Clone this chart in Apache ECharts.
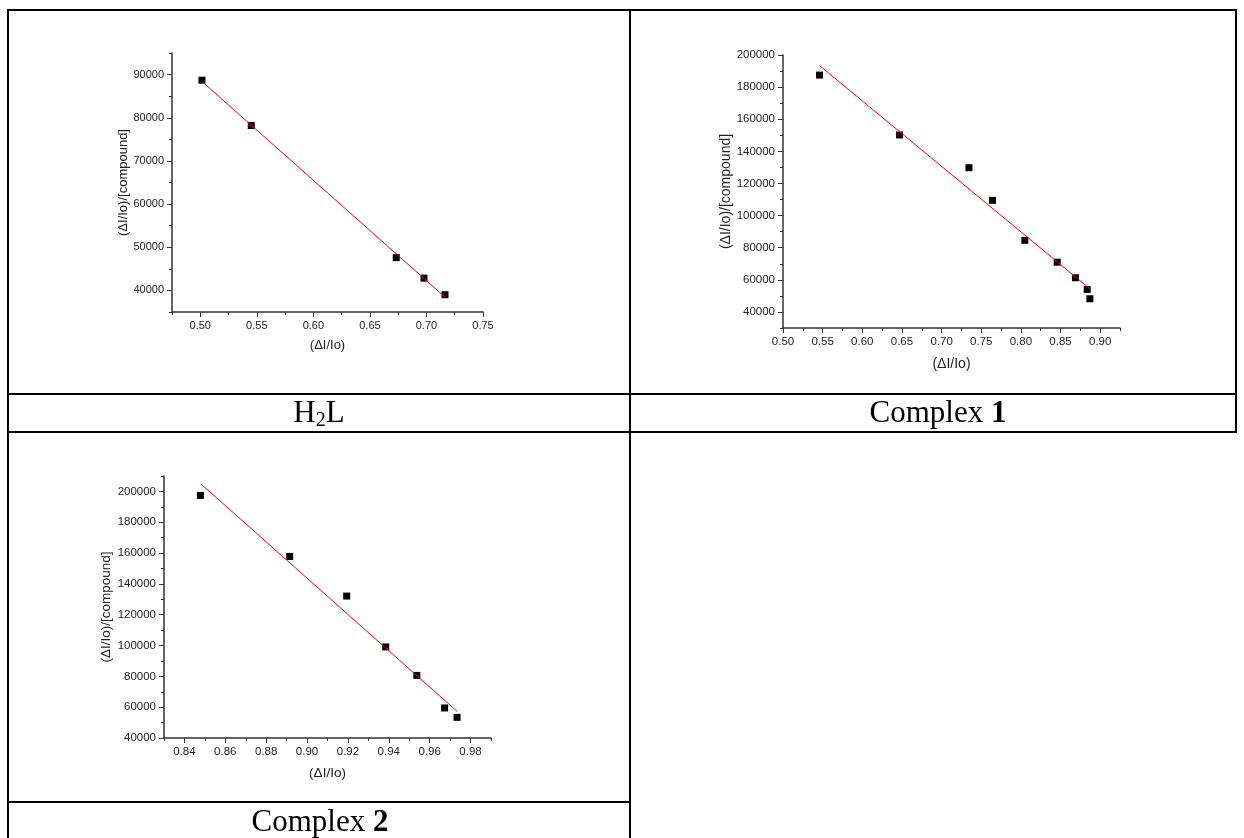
<!DOCTYPE html>
<html>
<head>
<meta charset="utf-8">
<script src="https://cdn.jsdelivr.net/npm/echarts@6.0.0/dist/echarts.min.js"></script>
<style>
  html, body { margin: 0; padding: 0; background: #fff; }
  #main { width: 1244px; height: 838px; }
</style>
</head>
<body>
<div id="main"></div>
<script>
// H2L
var h2lX = [0.5015, 0.5451, 0.6733, 0.6978, 0.7164];
var h2lY = [88700, 78200, 47600, 42850, 39000];
var h2lFitX = [0.5015, 0.7164];
var h2lFitY = [88400, 38450];
var h2lXTicks = [0.50, 0.55, 0.60, 0.65, 0.70, 0.75];
var h2lXMinor = [0.475, 0.525, 0.575, 0.625, 0.675, 0.725];
var h2lYTicks = [40000, 50000, 60000, 70000, 80000, 90000];
var h2lYMinor = [35000, 45000, 55000, 65000, 75000, 85000, 95000];

// Complex 1
var c1X = [0.5461, 0.6470, 0.7345, 0.7642, 0.8050, 0.8458, 0.8688, 0.8836, 0.8870];
var c1Y = [187500, 150200, 129800, 109500, 84600, 71000, 61300, 54000, 48200];
var c1FitX = [0.5461, 0.8870];
var c1FitY = [193400, 54450];
var c1XTicks = [0.50, 0.55, 0.60, 0.65, 0.70, 0.75, 0.80, 0.85, 0.90];
var c1XMinor = [0.525, 0.575, 0.625, 0.675, 0.725, 0.775, 0.825, 0.875, 0.925];
var c1YTicks = [40000, 60000, 80000, 100000, 120000, 140000, 160000, 180000, 200000];
var c1YMinor = [30000, 50000, 70000, 90000, 110000, 130000, 150000, 170000, 190000];

// Complex 2
var c2X = [0.8478, 0.8915, 0.9194, 0.9385, 0.9537, 0.9673, 0.9734];
var c2Y = [197400, 157800, 132100, 99100, 80600, 59500, 53400];
var c2FitX = [0.8481, 0.9734];
var c2FitY = [204800, 57300];
var c2XTicks = [0.84, 0.86, 0.88, 0.90, 0.92, 0.94, 0.96, 0.98];
var c2XMinor = [0.83, 0.85, 0.87, 0.89, 0.91, 0.93, 0.95, 0.97, 0.99];
var c2YTicks = [40000, 60000, 80000, 100000, 120000, 140000, 160000, 180000, 200000];
var c2YMinor = [50000, 70000, 90000, 110000, 130000, 150000, 170000, 190000, 210000];

var xName = '(\u0394I/Io)';
var yName = '(\u0394I/Io)/[compound]';
var axisColor = '#333';
var textColor = '#222';
var sans = '"Liberation Sans", Arial, sans-serif';
var serif = '"Liberation Serif", "Times New Roman", serif';

function pairs(xs, ys) {
  var out = [];
  for (var i = 0; i < xs.length; i++) out.push([xs[i], ys[i]]);
  return out;
}

var xAxes = [], yAxes = [], series = [];

function addChart(g, xr, yr, xt, xm, yt, ym, lab, nm, xGap, yGap, px, py, fx, fy) {
  var base = xAxes.length;
  // main axes with labels and long ticks
  xAxes.push({
    type: 'value', gridIndex: g, min: xr[0], max: xr[1], position: 'bottom',
    name: xName, nameLocation: 'middle', nameGap: xGap,
    nameTextStyle: { fontFamily: sans, fontSize: nm, color: textColor },
    axisLine: { onZero: false, lineStyle: { color: axisColor, width: 1.5 } },
    axisTick: { customValues: xt, length: 5, lineStyle: { color: axisColor, width: 1 } },
    axisLabel: { customValues: xt, margin: 8, fontFamily: sans, fontSize: lab, color: textColor,
      formatter: function (v) { return v.toFixed(2); } },
    splitLine: { show: false }
  });
  // minor ticks only
  xAxes.push({
    type: 'value', gridIndex: g, min: xr[0], max: xr[1], position: 'bottom',
    axisLine: { show: false, onZero: false },
    axisTick: { customValues: xm, length: 3, lineStyle: { color: axisColor, width: 1 } },
    axisLabel: { show: false }, splitLine: { show: false }
  });
  yAxes.push({
    type: 'value', gridIndex: g, min: yr[0], max: yr[1], position: 'left',
    name: yName, nameLocation: 'middle', nameGap: yGap, nameRotate: 90,
    nameTextStyle: { fontFamily: sans, fontSize: nm, color: textColor },
    axisLine: { onZero: false, lineStyle: { color: axisColor, width: 1.5 } },
    axisTick: { customValues: yt, length: 5, lineStyle: { color: axisColor, width: 1 } },
    axisLabel: { customValues: yt, margin: 8, fontFamily: sans, fontSize: lab, color: textColor,
      formatter: function (v) { return String(Math.round(v)); } },
    splitLine: { show: false }
  });
  yAxes.push({
    type: 'value', gridIndex: g, min: yr[0], max: yr[1], position: 'left',
    axisLine: { show: false, onZero: false },
    axisTick: { customValues: ym, length: 3, lineStyle: { color: axisColor, width: 1 } },
    axisLabel: { show: false }, splitLine: { show: false }
  });
  series.push({
    type: 'scatter', xAxisIndex: base, yAxisIndex: base,
    symbol: 'rect', symbolSize: 7, itemStyle: { color: '#000', opacity: 1 },
    data: pairs(px, py), z: 2
  });
  series.push({
    type: 'line', xAxisIndex: base, yAxisIndex: base,
    symbol: 'none', lineStyle: { color: '#ff0000', width: 1 },
    data: pairs(fx, fy), z: 3
  });
}

addChart(0, [0.475, 0.75], [35000, 95000], h2lXTicks, h2lXMinor, h2lYTicks, h2lYMinor,
  11, 13, 27, 40, h2lX, h2lY, h2lFitX, h2lFitY);
addChart(1, [0.50, 0.925], [30000, 200000], c1XTicks, c1XMinor, c1YTicks, c1YMinor,
  11.5, 14, 29, 50, c1X, c1Y, c1FitX, c1FitY);
addChart(2, [0.83, 0.99], [40000, 210000], c2XTicks, c2XMinor, c2YTicks, c2YMinor,
  11.5, 13.5, 28, 48, c2X, c2Y, c2FitX, c2FitY);

// table rules
function rule(x1, y1, x2, y2) {
  return { type: 'line', silent: true, shape: { x1: x1, y1: y1, x2: x2, y2: y2 },
    style: { stroke: '#000', lineWidth: 2 } };
}
var big = { fontFamily: serif, fontSize: 31, lineHeight: 34, color: '#000' };
var sub = { fontFamily: serif, fontSize: 20, lineHeight: 20, verticalAlign: 'bottom', color: '#000' };
var bold = { fontFamily: serif, fontSize: 31, lineHeight: 34, fontWeight: 'bold', color: '#000' };

var graphics = [
  rule(8, 10, 1236, 10),
  rule(8, 9, 8, 838),
  rule(630, 9, 630, 838),
  rule(1236, 9, 1236, 433),
  rule(8, 394, 1236, 394),
  rule(8, 432, 1236, 432),
  rule(8, 802, 630, 802),
  { type: 'text', x: 319, y: 414, style: { text: '{m|H}{s|2}{m|L}', align: 'center', verticalAlign: 'middle',
      rich: { m: big, s: sub } } },
  { type: 'text', x: 938, y: 414, style: { text: '{m|Complex }{b|1}', align: 'center', verticalAlign: 'middle',
      rich: { m: big, b: bold } } },
  { type: 'text', x: 320, y: 823, style: { text: '{m|Complex }{b|2}', align: 'center', verticalAlign: 'middle',
      rich: { m: big, b: bold } } }
];

var chart = echarts.init(document.getElementById('main'));
chart.setOption({
  animation: false,
  backgroundColor: '#fff',
  grid: [
    { left: 172, top: 53, width: 311, height: 259 },
    { left: 783, top: 55, width: 337, height: 273 },
    { left: 164, top: 476, width: 327, height: 262 }
  ],
  xAxis: xAxes,
  yAxis: yAxes,
  series: series,
  graphic: graphics
});
</script>
</body>
</html>
